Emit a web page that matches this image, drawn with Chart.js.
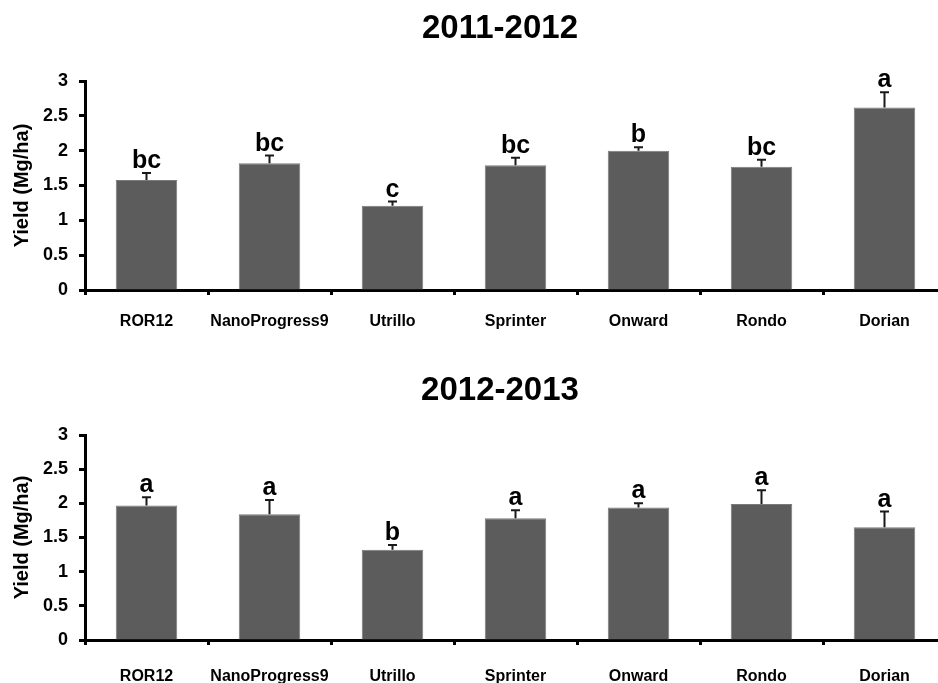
<!DOCTYPE html>
<html>
<head>
<meta charset="utf-8">
<script src="https://cdn.jsdelivr.net/npm/chart.js@4/dist/chart.umd.min.js"></script>
<style>
  html, body { margin: 0; padding: 0; background: #fff; overflow: hidden; width: 938px; height: 683px; }
  .panel { position: absolute; left: 0; }
</style>
</head>
<body>
<div class="panel" style="top:0"><canvas id="season1" width="950" height="345"></canvas></div>
<div class="panel" style="top:350px"><canvas id="season2" width="950" height="345"></canvas></div>
<script>
// Cultivars and the y-axis ticks shared by both seasons
const cultivars = ['ROR12', 'NanoProgress9', 'Utrillo', 'Sprinter', 'Onward', 'Rondo', 'Dorian'];
const yieldTicks = [0, 0.5, 1, 1.5, 2, 2.5, 3];

// 2011-2012 season: mean yield (Mg/ha), standard error, significance groups
const yield2011 = [1.58, 1.82, 1.21, 1.79, 2.00, 1.77, 2.62];
const se2011 = [0.10, 0.11, 0.06, 0.11, 0.05, 0.10, 0.22];
const groups2011 = ['bc', 'bc', 'c', 'bc', 'b', 'bc', 'a'];

// 2012-2013 season
const yield2012 = [1.97, 1.84, 1.32, 1.78, 1.94, 1.99, 1.65];
const se2012 = [0.12, 0.21, 0.07, 0.12, 0.06, 0.20, 0.23];
const groups2012 = ['a', 'a', 'b', 'a', 'a', 'a', 'a'];

const FONT = '"Liberation Sans", Arial, Helvetica, sans-serif';

// Season heading, upper error whiskers and group letters above each bar
const annotatePlugin = {
  id: 'annotate',
  afterDatasetsDraw(chart) {
    const { ctx, scales } = chart;
    const opts = chart.options.plugins.annotate;
    const meta = chart.getDatasetMeta(0);
    const values = chart.data.datasets[0].data;
    ctx.save();

    ctx.fillStyle = '#000';
    ctx.font = 'bold 33px ' + FONT;
    ctx.textAlign = 'center';
    ctx.textBaseline = 'alphabetic';
    ctx.fillText(opts.heading, opts.headingX, opts.headingBase);

    meta.data.forEach((bar, i) => {
      const x = bar.x;
      const yTop = scales.y.getPixelForValue(values[i]);
      const yCap = scales.y.getPixelForValue(values[i] + opts.errors[i]);
      ctx.strokeStyle = '#1a1a1a';
      ctx.lineWidth = 2;
      ctx.beginPath();
      ctx.moveTo(x, yTop);
      ctx.lineTo(x, yCap);
      ctx.moveTo(x - 4.5, yCap);
      ctx.lineTo(x + 4.5, yCap);
      ctx.stroke();
      ctx.fillStyle = '#000';
      ctx.font = 'bold 25px ' + FONT;
      ctx.fillText(opts.letters[i], x, yCap - 5);
    });
    ctx.restore();
  }
};

function makeChart(id, heading, values, errors, letters, g) {
  return new Chart(document.getElementById(id), {
    type: 'bar',
    data: {
      labels: cultivars,
      datasets: [{
        data: values,
        backgroundColor: '#5c5c5c',
        borderColor: '#7a7a7a',
        borderWidth: 1,
        barPercentage: 0.5,
        categoryPercentage: 1.0
      }]
    },
    options: {
      responsive: false,
      animation: false,
      events: [],
      layout: { padding: { top: g.top, left: 0, right: 4, bottom: 0 } },
      plugins: {
        legend: { display: false },
        tooltip: { enabled: false },
        title: { display: false },
        annotate: {
          heading: heading,
          headingX: 500,
          headingBase: g.headingBase,
          errors: errors,
          letters: letters
        }
      },
      scales: {
        x: {
          z: 1,
          offset: true,
          border: { display: true, color: '#000', width: 3 },
          grid: {
            offset: true,
            drawOnChartArea: false,
            drawTicks: true,
            tickLength: 5,
            tickWidth: 3,
            tickColor: '#000',
            color: '#000'
          },
          ticks: {
            color: '#000',
            padding: g.xPad,
            maxRotation: 0,
            autoSkip: false,
            font: { family: FONT, size: 16, weight: 'bold' }
          },
          afterFit(scale) { scale.height = g.xHeight; }
        },
        y: {
          z: 1,
          min: 0,
          max: 3,
          border: { display: true, color: '#000', width: 3 },
          grid: {
            drawOnChartArea: false,
            drawTicks: true,
            tickLength: 6,
            tickWidth: 3,
            tickColor: '#000'
          },
          afterBuildTicks(scale) {
            scale.ticks = yieldTicks.map(v => ({ value: v }));
          },
          ticks: {
            color: '#000',
            padding: 11,
            font: { family: FONT, size: 18, weight: 'bold' },
            callback: v => String(v)
          },
          title: {
            display: true,
            text: 'Yield (Mg/ha)',
            color: '#000',
            font: { family: FONT, size: 20, weight: 'bold', lineHeight: 1.2 },
            padding: { top: 10, bottom: 0 }
          },
          afterFit(scale) { scale.width = 85; }
        }
      }
    },
    plugins: [annotatePlugin]
  });
}

makeChart('season1', '2011-2012', yield2011, se2011, groups2011,
  { top: 81, headingBase: 38, xPad: 17.4, xHeight: 55 });
makeChart('season2', '2012-2013', yield2012, se2012, groups2012,
  { top: 85, headingBase: 50, xPad: 22, xHeight: 55 });
</script>
</body>
</html>
